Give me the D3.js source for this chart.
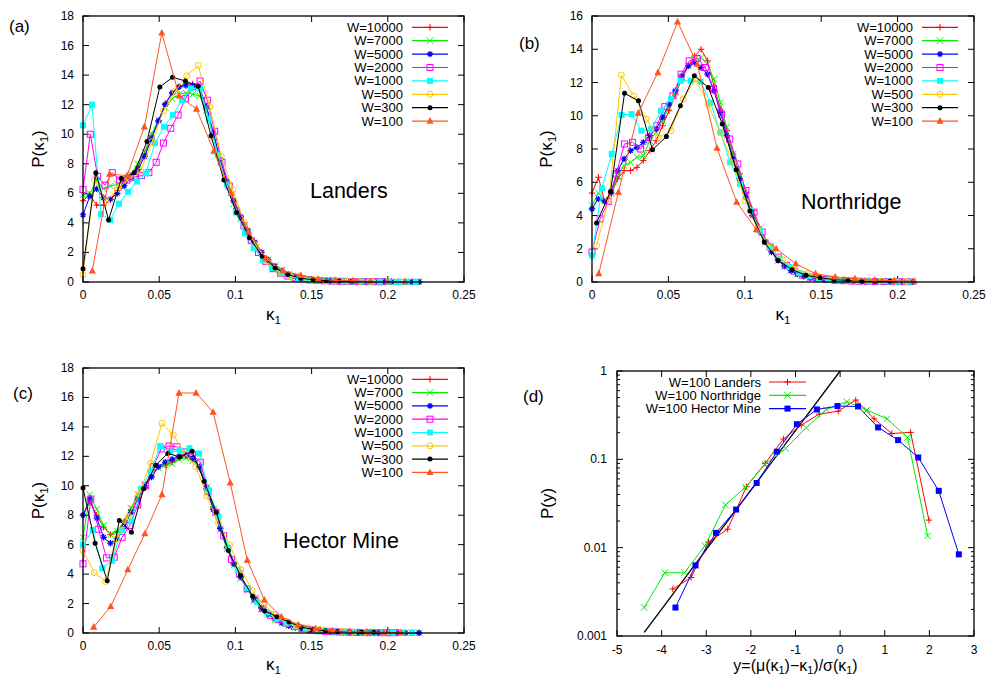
<!DOCTYPE html>
<html>
<head>
<meta charset="utf-8">
<script src="https://cdn.jsdelivr.net/npm/d3@7"></script>
<style>
body { margin: 0; background: #fff; }
text { font-family: "Liberation Sans", Arial, Helvetica, sans-serif; fill: #000; }
</style>
</head>
<body>
<svg id="chart" width="987" height="677"></svg>
<script>
// legend entries shared by panels (a), (b), (c)
const seriesLabels = ["W=10000", "W=7000", "W=5000", "W=2000", "W=1000", "W=500", "W=300", "W=100"];
const seriesColors = ["#ff0000", "#00ee00", "#0000ff", "#ff00ff", "#00ffff", "#ffc800", "#000000", "#ff5522"];
const seriesMarks = ["plus", "cross", "star", "sqOpen", "sqFill", "circOpen", "circFill", "triFill"];

const kTicks = [0, 0.05, 0.1, 0.15, 0.2, 0.25];
const kTickLabels = ["0", "0.05", "0.1", "0.15", "0.2", "0.25"];

// (a) Landers: first bin centre and bin width per series, then P(kappa1) values
const landersStart = [0, 0, 0, 0, 0, 0, 0, 0.0061];
const landersBin = [0.0045, 0.0045, 0.0045, 0.0048, 0.0059, 0.00756, 0.0084, 0.0114];
const landers10000 = [5.5, 5.9, 5.2, 5.2, 5.6, 6.2, 6.8, 7.2, 7.8, 8.7, 9.9, 10.9, 12.1, 12.8, 13.2, 13.4, 13.4, 13.1, 11.7, 10.0,
  8.2, 6.7, 5.4, 4.4, 3.5, 2.7, 2.0, 1.5, 1.05, 0.75, 0.5, 0.35, 0.25, 0.18, 0.13, 0.1, 0.08, 0.06, 0.05, 0.04,
  0.035, 0.03, 0.025, 0.02, 0.02, 0.015, 0.01, 0.01, 0.01, 0.01];
const landers7000 = [5.9, 6.0, 6.9, 6.3, 6.5, 6.6, 6.9, 7.3, 8.0, 8.8, 10.0, 11.0, 11.8, 12.4, 12.7, 12.8, 12.7, 12.6, 11.6, 9.8,
  8.1, 6.7, 5.3, 4.3, 3.4, 2.6, 2.0, 1.5, 1.1, 0.8, 0.55, 0.38, 0.27, 0.19, 0.14, 0.1, 0.08, 0.06, 0.05, 0.04,
  0.035, 0.03, 0.025, 0.02, 0.02, 0.015, 0.01, 0.01, 0.01, 0.01];
const landers5000 = [4.55, 5.8, 6.3, 5.7, 5.6, 6.0, 6.5, 7.0, 7.6, 8.5, 9.7, 10.9, 12.0, 12.8, 13.2, 13.3, 13.3, 13.1, 11.9, 10.1,
  8.3, 6.8, 5.5, 4.4, 3.5, 2.7, 2.0, 1.5, 1.05, 0.75, 0.5, 0.35, 0.25, 0.18, 0.13, 0.1, 0.08, 0.06, 0.05, 0.04,
  0.035, 0.03, 0.025, 0.02, 0.02, 0.015, 0.01, 0.01, 0.01, 0.01];
const landers2000 = [6.25, 10.0, 7.15, 6.55, 7.4, 6.9, 6.9, 7.1, 7.2, 7.4, 8.1, 9.4, 10.4, 11.3, 12.4, 13.2, 13.6, 12.3, 10.2, 8.1,
  6.5, 4.8, 3.8, 2.8, 2.0, 1.4, 0.9, 0.6, 0.4, 0.28, 0.2, 0.14, 0.1, 0.08, 0.06, 0.05, 0.04, 0.03, 0.03, 0.02, 0.02, 0.02];
const landers1000 = [10.6, 12.0, 4.6, 4.2, 5.3, 6.1, 6.8, 7.35, 9.4, 10.5, 11.3, 12.3, 13.1, 13.1, 11.0, 8.6, 6.6, 4.7, 3.3, 2.3,
  1.5, 0.95, 0.6, 0.35, 0.22, 0.15, 0.1, 0.07, 0.05, 0.04, 0.03, 0.03, 0.02, 0.02, 0.02, 0.01, 0.01, 0.01];
const landers500 = [0.5, 6.9, 5.5, 6.3, 7.0, 7.5, 9.5, 11.6, 12.9, 13.95, 14.65, 11.85, 8.5, 6.25, 4.0, 2.5, 1.4, 0.7, 0.4, 0.22,
  0.15, 0.1, 0.07, 0.05, 0.04, 0.03];
const landers300 = [0.9, 7.4, 4.2, 7.0, 7.4, 9.5, 13.2, 13.85, 13.6, 13.25, 9.9, 6.9, 4.7, 3.0, 1.75, 0.95, 0.5, 0.25, 0.15, 0.08, 0.06, 0.04];
const landers100 = [0.75, 7.3, 7.2, 10.5, 16.85, 12.6, 11.7, 8.85, 6.0, 3.4, 1.6, 0.75, 0.45, 0.2, 0.12, 0.08, 0.05, 0.03, 0.02];

// (b) Northridge
const northStart = [0, 0, 0, 0, 0, 0.003, 0.003, 0.0044];
const northBin = [0.0042, 0.0042, 0.0042, 0.0053, 0.00646, 0.0081, 0.00914, 0.0129];
const north10000 = [5.35, 6.3, 4.8, 5.3, 6.2, 6.7, 6.7, 6.9, 7.3, 7.9, 8.5, 9.4, 10.3, 11.3, 12.2, 13.0, 13.6, 14.0, 13.3, 11.8,
  10.4, 9.1, 7.7, 6.5, 5.4, 4.3, 3.3, 2.5, 1.85, 1.35, 1.0, 0.72, 0.5, 0.36, 0.27, 0.21, 0.17, 0.14, 0.11, 0.09,
  0.07, 0.06, 0.05, 0.04, 0.03, 0.03, 0.02, 0.02, 0.02, 0.01, 0.01];
const north7000 = [4.6, 5.35, 4.9, 5.3, 6.4, 7.0, 7.2, 7.5, 7.6, 8.5, 9.0, 9.7, 10.5, 11.4, 12.3, 13.0, 13.4, 13.5, 13.1, 12.2,
  10.8, 9.3, 7.7, 6.4, 5.2, 4.1, 3.2, 2.4, 1.8, 1.3, 0.95, 0.7, 0.5, 0.36, 0.27, 0.21, 0.17, 0.14, 0.11, 0.09,
  0.07, 0.06, 0.05, 0.04, 0.03, 0.03, 0.02, 0.02, 0.02, 0.01, 0.01];
const north5000 = [4.4, 5.0, 4.85, 5.4, 6.7, 7.4, 7.9, 8.1, 8.4, 8.8, 9.2, 9.9, 10.7, 11.5, 12.4, 13.0, 13.2, 12.9, 12.5, 11.5,
  10.2, 8.8, 7.4, 6.2, 5.1, 4.0, 3.1, 2.4, 1.8, 1.3, 0.95, 0.68, 0.48, 0.35, 0.26, 0.2, 0.16, 0.13, 0.1, 0.08,
  0.07, 0.06, 0.05, 0.04, 0.03, 0.03, 0.02, 0.02, 0.02, 0.01, 0.01];
const north2000 = [1.8, 3.8, 4.85, 6.5, 8.3, 8.4, 8.0, 8.7, 9.4, 10.55, 11.2, 12.5, 13.3, 13.45, 12.9, 11.6, 10.1, 8.6, 7.1, 5.5,
  4.2, 3.0, 2.1, 1.5, 1.0, 0.65, 0.42, 0.3, 0.2, 0.15, 0.1, 0.08, 0.06, 0.05, 0.04, 0.03, 0.03, 0.02, 0.02, 0.02];
const north1000 = [1.6, 5.65, 7.7, 10.05, 10.1, 9.1, 9.2, 10.3, 11.0, 12.1, 12.1, 12.05, 10.8, 9.0, 7.2, 5.9, 4.3, 3.1, 2.1, 1.4,
  0.9, 0.55, 0.35, 0.22, 0.15, 0.1, 0.07, 0.05, 0.04, 0.03, 0.03, 0.02, 0.02];
const north500 = [2.2, 5.0, 12.45, 11.2, 9.8, 8.7, 9.1, 11.0, 12.2, 10.7, 9.0, 7.2, 4.9, 3.2, 2.1, 1.35, 0.8, 0.5, 0.3, 0.2,
  0.15, 0.1, 0.08, 0.06, 0.05, 0.04];
const north300 = [3.55, 5.45, 11.35, 10.9, 7.95, 8.75, 10.6, 12.4, 11.7, 9.5, 6.75, 4.27, 2.4, 1.3, 0.74, 0.4, 0.26, 0.14, 0.1, 0.05, 0.04, 0.04];
const north100 = [0.5, 5.4, 10.15, 12.6, 15.65, 13.1, 8.05, 4.8, 3.15, 2.0, 1.1, 0.5, 0.3, 0.2, 0.12, 0.08, 0.05];

// (c) Hector Mine
const hectorStart = [0, 0, 0, 0, 0, 0, 0, 0.007];
const hectorBin = [0.0045, 0.0045, 0.0045, 0.00513, 0.00635, 0.0074, 0.00795, 0.0112];
const hector10000 = [8.0, 8.9, 8.0, 7.2, 6.7, 6.9, 7.6, 8.4, 9.3, 10.0, 10.8, 11.3, 11.4, 11.6, 11.9, 12.0, 11.8, 11.2, 10.0, 8.5,
  7.1, 5.8, 4.7, 3.8, 3.0, 2.3, 1.7, 1.3, 0.95, 0.7, 0.5, 0.38, 0.28, 0.2, 0.15, 0.12, 0.09, 0.07, 0.05, 0.04,
  0.03, 0.03, 0.02, 0.02, 0.02, 0.01, 0.01, 0.01, 0.01, 0.01];
const hector7000 = [6.5, 9.4, 8.4, 7.3, 6.7, 6.9, 7.5, 8.5, 9.4, 10.1, 10.8, 11.2, 11.4, 11.5, 11.8, 11.9, 11.7, 11.2, 9.9, 8.4,
  7.0, 5.7, 4.6, 3.7, 2.9, 2.2, 1.65, 1.25, 0.9, 0.68, 0.5, 0.37, 0.27, 0.2, 0.15, 0.11, 0.09, 0.07, 0.05, 0.04,
  0.03, 0.03, 0.02, 0.02, 0.02, 0.01, 0.01, 0.01, 0.01, 0.01];
const hector5000 = [8.0, 9.1, 7.8, 6.5, 6.1, 6.4, 7.2, 8.2, 9.1, 9.9, 10.6, 11.3, 11.6, 11.8, 12.0, 12.1, 11.9, 11.3, 9.8, 8.4,
  7.1, 5.8, 4.7, 3.8, 3.0, 2.3, 1.7, 1.3, 0.95, 0.7, 0.5, 0.38, 0.28, 0.2, 0.15, 0.12, 0.09, 0.07, 0.05, 0.04,
  0.03, 0.03, 0.02, 0.02, 0.02, 0.01, 0.01, 0.01, 0.01, 0.01];
const hector2000 = [4.7, 9.1, 7.05, 5.1, 5.15, 6.5, 7.3, 8.7, 10.0, 11.3, 12.5, 12.7, 12.65, 12.3, 12.1, 11.6, 9.6, 8.2, 6.6, 5.0,
  4.0, 3.0, 2.3, 1.65, 1.2, 0.9, 0.65, 0.45, 0.32, 0.22, 0.16, 0.12, 0.09, 0.07, 0.05, 0.04, 0.03, 0.03, 0.02, 0.02, 0.02];
const hector1000 = [6.0, 7.0, 4.4, 4.9, 7.0, 7.6, 9.8, 11.0, 12.7, 12.3, 12.4, 12.55, 12.2, 9.7, 7.9, 5.8, 4.3, 3.05, 2.1, 1.4,
  0.95, 0.65, 0.45, 0.3, 0.2, 0.15, 0.1, 0.08, 0.06, 0.05, 0.04, 0.03, 0.03, 0.02, 0.02];
const hector500 = [5.6, 4.1, 3.5, 6.4, 7.9, 9.5, 11.55, 14.25, 13.45, 12.2, 11.3, 9.3, 7.5, 6.0, 4.3, 2.9, 1.95, 1.25, 0.8, 0.5,
  0.35, 0.25, 0.15, 0.1, 0.07, 0.05];
const hector300 = [9.85, 6.1, 3.55, 7.65, 6.85, 9.8, 11.4, 12.2, 11.95, 12.35, 10.3, 8.2, 5.6, 3.9, 2.5, 1.5, 1.1, 0.75, 0.4, 0.25,
  0.15, 0.1, 0.08, 0.06, 0.05];
const hector100 = [0.4, 1.8, 4.3, 6.75, 9.4, 16.3, 16.3, 15.0, 10.2, 4.95, 2.25, 1.1, 0.55, 0.3, 0.15, 0.1, 0.06, 0.04, 0.03];

// (d) scaled distributions for W=100, log y
const dLabels = ["W=100 Landers", "W=100 Northridge", "W=100 Hector Mine"];
const dColors = ["#ff0000", "#00ee00", "#0000ff"];
const dMarks = ["plus", "cross", "sqFill"];
const dLandersY = [-3.75, -3.34, -2.95, -2.52, -2.10, -1.68, -1.27, -0.87, -0.47, -0.04, 0.35, 0.76, 1.16, 1.58, 1.99];
const dLandersP = [0.0034, 0.0046, 0.0116, 0.0162, 0.049, 0.09, 0.17, 0.244, 0.325, 0.351, 0.469, 0.288, 0.196, 0.202, 0.0205];
const dNorthY = [-4.39, -3.93, -3.49, -3.03, -2.57, -2.12, -1.68, -1.22, -0.76, -0.31, 0.15, 0.60, 1.05, 1.51, 1.96];
const dNorthP = [0.0021, 0.0052, 0.0052, 0.0105, 0.0305, 0.0484, 0.088, 0.133, 0.228, 0.367, 0.449, 0.361, 0.288, 0.177, 0.0136];
const dHectorY = [-3.69, -3.24, -2.78, -2.33, -1.87, -1.42, -0.97, -0.52, -0.06, 0.40, 0.85, 1.30, 1.75, 2.21, 2.66];
const dHectorP = [0.0021, 0.0063, 0.0147, 0.027, 0.054, 0.122, 0.25, 0.367, 0.401, 0.397, 0.23, 0.165, 0.105, 0.044, 0.0084];
// straight reference line (exponential tail)
const refLineY = [-4.39, 0];
const refLineP = [0.0011, 1.0];
const dXTicks = [-5, -4, -3, -2, -1, 0, 1, 2, 3];
const dYTicks = [0.001, 0.01, 0.1, 1];
const dYTickLabels = ["0.001", "0.01", "0.1", "1"];

const svg = d3.select("#chart");
svg.append("rect").attr("width", 987).attr("height", 677).attr("fill", "#fff");

// build point lists from bin centres
function binned(start, bin, lists) {
    return lists.map((vals, j) => ({
        label: seriesLabels[j],
        color: seriesColors[j],
        mark: seriesMarks[j],
        points: vals.map((v, i) => [start[j] + i * bin[j], v])
    }));
}

function drawMarker(g, type, cx, cy, color) {
    const s = 3.2;
    if (type === "plus") {
        g.append("path").attr("d", `M${cx - s},${cy}H${cx + s}M${cx},${cy - s}V${cy + s}`)
         .attr("stroke", color).attr("stroke-width", 1).attr("fill", "none");
    } else if (type === "cross") {
        g.append("path").attr("d", `M${cx - s},${cy - s}L${cx + s},${cy + s}M${cx - s},${cy + s}L${cx + s},${cy - s}`)
         .attr("stroke", color).attr("stroke-width", 1).attr("fill", "none");
    } else if (type === "star") {
        g.append("path").attr("d", `M${cx - s},${cy}H${cx + s}M${cx},${cy - s}V${cy + s}M${cx - s + 1},${cy - s + 1}L${cx + s - 1},${cy + s - 1}M${cx - s + 1},${cy + s - 1}L${cx + s - 1},${cy - s + 1}`)
         .attr("stroke", color).attr("stroke-width", 1.2).attr("fill", "none");
    } else if (type === "sqOpen") {
        g.append("rect").attr("x", cx - 3).attr("y", cy - 3).attr("width", 6).attr("height", 6)
         .attr("fill", "none").attr("stroke", color).attr("stroke-width", 1);
    } else if (type === "sqFill") {
        g.append("rect").attr("x", cx - 3).attr("y", cy - 3).attr("width", 6).attr("height", 6)
         .attr("fill", color);
    } else if (type === "circOpen") {
        g.append("circle").attr("cx", cx).attr("cy", cy).attr("r", 3)
         .attr("fill", "none").attr("stroke", color).attr("stroke-width", 1);
    } else if (type === "circFill") {
        g.append("circle").attr("cx", cx).attr("cy", cy).attr("r", 2.5).attr("fill", color);
    } else if (type === "triFill") {
        g.append("path").attr("d", `M${cx},${cy - 4}L${cx + 3.6},${cy + 2.6}L${cx - 3.6},${cy + 2.6}Z`)
         .attr("fill", color);
    }
}

// text with subscripts: shift down for a subscript, shift back on the next part
function kappaText(sel, parts, shift) {
    let lowered = false;
    parts.forEach(p => {
        const ts = sel.append("tspan").text(p.t);
        if (p.sub) {
            ts.attr("font-size", "0.68em").attr("dy", shift);
            lowered = true;
        } else if (lowered) {
            ts.attr("dy", -shift);
            lowered = false;
        }
    });
}

function drawPanel(p) {
    const g = svg.append("g");
    const x = d3.scaleLinear().domain(p.xDomain).range([p.left, p.right]);
    const y = (p.log ? d3.scaleLog() : d3.scaleLinear()).domain(p.yDomain).range([p.bottom, p.top]);

    // x ticks, inward on bottom and top
    p.xTicks.forEach((t, i) => {
        g.append("line").attr("x1", x(t)).attr("x2", x(t)).attr("y1", p.bottom).attr("y2", p.bottom - 6).attr("stroke", "#000");
        g.append("line").attr("x1", x(t)).attr("x2", x(t)).attr("y1", p.top).attr("y2", p.top + 6).attr("stroke", "#000");
        g.append("text").attr("x", x(t)).attr("y", p.bottom + p.xLabelGap).attr("text-anchor", "middle")
         .attr("font-size", 12).text(p.xTickLabels[i]);
    });
    // y ticks, inward on left and right
    p.yTicks.forEach((t, i) => {
        g.append("line").attr("x1", p.left).attr("x2", p.left + 6).attr("y1", y(t)).attr("y2", y(t)).attr("stroke", "#000");
        g.append("line").attr("x1", p.right).attr("x2", p.right - 6).attr("y1", y(t)).attr("y2", y(t)).attr("stroke", "#000");
        g.append("text").attr("x", p.left - p.yLabelGap).attr("y", y(t) + 4).attr("text-anchor", "end")
         .attr("font-size", 12).text(p.yTickLabels[i]);
    });
    if (p.log) {
        // minor ticks between decades
        for (let d = 0.001; d < 1; d *= 10) {
            for (let m = 2; m < 10; m++) {
                const yy = y(d * m);
                g.append("line").attr("x1", p.left).attr("x2", p.left + 3).attr("y1", yy).attr("y2", yy).attr("stroke", "#000");
                g.append("line").attr("x1", p.right).attr("x2", p.right - 3).attr("y1", yy).attr("y2", yy).attr("stroke", "#000");
            }
        }
    }

    // extra lines (no markers)
    (p.lines || []).forEach(l => {
        g.append("path").datum(l.points)
         .attr("d", d3.line().x(d => x(d[0])).y(d => y(d[1])))
         .attr("fill", "none").attr("stroke", l.color).attr("stroke-width", 1.3);
    });

    // data series
    const line = d3.line().x(d => x(d[0])).y(d => y(d[1]));
    p.series.forEach(s => {
        g.append("path").datum(s.points).attr("d", line)
         .attr("fill", "none").attr("stroke", s.color).attr("stroke-width", 1);
        s.points.forEach(d => drawMarker(g, s.mark, x(d[0]), y(d[1]), s.color));
    });

    // frame
    g.append("rect").attr("x", p.left).attr("y", p.top)
     .attr("width", p.right - p.left).attr("height", p.bottom - p.top)
     .attr("fill", "none").attr("stroke", "#000").attr("stroke-width", 1.3);

    // legend
    p.series.forEach((s, i) => {
        const ly = p.legend.y + i * p.legend.step;
        g.append("text").attr("x", p.legend.textRight).attr("y", ly + 4.5).attr("text-anchor", "end")
         .attr("font-size", 13).text(s.label);
        g.append("line").attr("x1", p.legend.x1).attr("x2", p.legend.x2).attr("y1", ly).attr("y2", ly)
         .attr("stroke", s.color).attr("stroke-width", 1.2);
        drawMarker(g, s.mark, (p.legend.x1 + p.legend.x2) / 2, ly, s.color);
    });

    // panel tag and name
    g.append("text").attr("x", p.tag.x).attr("y", p.tag.y).attr("font-size", 17).text(p.tag.t);
    if (p.name) {
        g.append("text").attr("x", p.name.x).attr("y", p.name.y).attr("font-size", 21.5).text(p.name.t);
    }

    // axis titles
    const xt = g.append("text").attr("x", (p.left + p.right) / 2).attr("y", p.xTitleY)
     .attr("text-anchor", "middle").attr("font-size", p.xTitleSize || 17);
    kappaText(xt, p.xTitle, p.subShift || 4);
    const yt = g.append("text").attr("transform", `translate(${p.yTitleX},${(p.top + p.bottom) / 2}) rotate(-90)`)
     .attr("text-anchor", "middle").attr("font-size", 17);
    kappaText(yt, p.yTitle, 4);
}

const kTitle = [{ t: "κ" }, { t: "1", sub: true }];
const pkTitle = [{ t: "P(κ" }, { t: "1", sub: true }, { t: ")" }];

drawPanel({
    left: 83, right: 464, top: 16, bottom: 282,
    xDomain: [0, 0.25], yDomain: [0, 18],
    xTicks: kTicks, xTickLabels: kTickLabels,
    yTicks: d3.range(0, 19, 2), yTickLabels: d3.range(0, 19, 2).map(String),
    xLabelGap: 17, yLabelGap: 9,
    series: binned(landersStart, landersBin, [landers10000, landers7000, landers5000, landers2000, landers1000, landers500, landers300, landers100]),
    legend: { textRight: 403, x1: 412, x2: 448, y: 27.3, step: 13.4 },
    tag: { t: "(a)", x: 9, y: 32 },
    name: { t: "Landers", x: 310, y: 198 },
    xTitle: kTitle, xTitleY: 320, yTitle: pkTitle, yTitleX: 44
});

drawPanel({
    left: 592, right: 974, top: 16, bottom: 282,
    xDomain: [0, 0.25], yDomain: [0, 16],
    xTicks: kTicks, xTickLabels: kTickLabels,
    yTicks: d3.range(0, 17, 2), yTickLabels: d3.range(0, 17, 2).map(String),
    xLabelGap: 17, yLabelGap: 9,
    series: binned(northStart, northBin, [north10000, north7000, north5000, north2000, north1000, north500, north300, north100]),
    legend: { textRight: 913, x1: 922, x2: 958, y: 27.3, step: 13.4 },
    tag: { t: "(b)", x: 519, y: 49 },
    name: { t: "Northridge", x: 801, y: 209 },
    xTitle: kTitle, xTitleY: 320, yTitle: pkTitle, yTitleX: 552
});

drawPanel({
    left: 83, right: 464, top: 368, bottom: 633,
    xDomain: [0, 0.25], yDomain: [0, 18],
    xTicks: kTicks, xTickLabels: kTickLabels,
    yTicks: d3.range(0, 19, 2), yTickLabels: d3.range(0, 19, 2).map(String),
    xLabelGap: 17, yLabelGap: 9,
    series: binned(hectorStart, hectorBin, [hector10000, hector7000, hector5000, hector2000, hector1000, hector500, hector300, hector100]),
    legend: { textRight: 403, x1: 412, x2: 448, y: 379.3, step: 13.3 },
    tag: { t: "(c)", x: 13, y: 399 },
    name: { t: "Hector Mine", x: 283, y: 548 },
    xTitle: kTitle, xTitleY: 670, yTitle: pkTitle, yTitleX: 44
});

drawPanel({
    left: 617, right: 974, top: 371, bottom: 636,
    xDomain: [-5, 3], yDomain: [0.001, 1], log: true,
    xTicks: dXTicks, xTickLabels: dXTicks.map(String),
    yTicks: dYTicks, yTickLabels: dYTickLabels,
    xLabelGap: 18, yLabelGap: 10,
    lines: [{ color: "#000", points: refLineY.map((v, i) => [v, refLineP[i]]) }],
    series: [
        { label: dLabels[0], color: dColors[0], mark: dMarks[0], points: dLandersY.map((v, i) => [v, dLandersP[i]]) },
        { label: dLabels[1], color: dColors[1], mark: dMarks[1], points: dNorthY.map((v, i) => [v, dNorthP[i]]) },
        { label: dLabels[2], color: dColors[2], mark: dMarks[2], points: dHectorY.map((v, i) => [v, dHectorP[i]]) }
    ],
    legend: { textRight: 761, x1: 769, x2: 806, y: 382, step: 13.3 },
    tag: { t: "(d)", x: 523, y: 402 },
    name: null,
    xTitle: [{ t: "y=(μ(κ" }, { t: "1", sub: true }, { t: ")−κ" }, { t: "1", sub: true }, { t: ")/σ(κ" }, { t: "1", sub: true }, { t: ")" }],
    xTitleY: 671, xTitleSize: 16, subShift: 3,
    yTitle: [{ t: "P(y)" }], yTitleX: 553
});
</script>
</body>
</html>
